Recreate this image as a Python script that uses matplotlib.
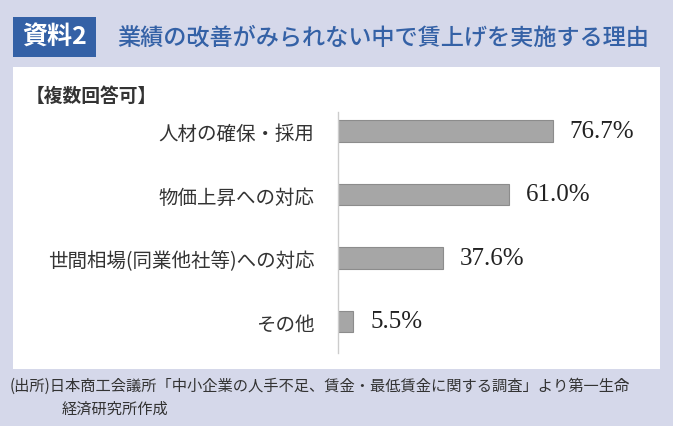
import matplotlib
matplotlib.use("Agg")
import matplotlib.pyplot as plt
from matplotlib.patches import Rectangle

plt.rcParams['font.family'] = ['Noto Sans CJK JP', 'DejaVu Sans']

categories = ["人材の確保・採用", "物価上昇への対応", "世間相場(同業他社等)への対応", "その他"]
values = [76.7, 61.0, 37.6, 5.5]
value_labels = ["76.7%", "61.0%", "37.6%", "5.5%"]

title = "業績の改善がみられない中で賃上げを実施する理由"
badge = "資料2"
note = "【複数回答可】"
source1 = "(出所)日本商工会議所「中小企業の人手不足、賃金・最低賃金に関する調査」より第一生命"
source2 = "経済研究所作成"

W, H = 673, 427
bg = "#d5d8ea"
blue = "#3461a6"

fig = plt.figure(figsize=(W / 100, H / 100), dpi=100, facecolor=bg)

def fx(px):
    return px / W

def fy(py):
    return 1 - py / H

# header badge + title
fig.patches.append(Rectangle((fx(13), fy(58)), fx(83), 40 / H, transform=fig.transFigure,
                             facecolor=blue, edgecolor="none", zorder=-5))
fig.text(fx(55), fy(38), badge, color="white", fontsize=18, fontweight="bold",
         ha="center", va="center")
fig.text(fx(117), fy(38), title, color=blue, fontsize=16.7, fontweight="medium",
         ha="left", va="center")

# white panel
fig.patches.append(Rectangle((fx(13), fy(370)), fx(647), 302 / H, transform=fig.transFigure,
                             facecolor="white", edgecolor="none", zorder=-5))
fig.text(fx(26), fy(96), note, color="#333333", fontsize=13.5, fontweight="bold",
         ha="left", va="center")

# bars
ax = fig.add_axes([fx(338), fy(354), 280 / W, 241 / H])
ax.set_zorder(5)
ax.set_facecolor("none")
y = list(range(len(categories)))
ax.barh(y, values, height=0.34, color="#a6a6a6", edgecolor="#8c8c8c", linewidth=0.8)
for yi, v, lab in zip(y, values, value_labels):
    ax.text(v + 6, yi, lab, fontsize=18, family="Liberation Serif", color="#222222",
            ha="left", va="center")
ax.set_xlim(0, 100)
ax.set_ylim(3.5, -0.3)
ax.set_yticks(y)
ax.set_yticklabels(categories, fontsize=14, color="#333333")
ax.tick_params(axis="y", length=0, pad=17)
ax.set_xticks([])
for s in ["top", "right", "bottom"]:
    ax.spines[s].set_visible(False)
ax.spines["left"].set_color("#cccccc")
ax.spines["left"].set_linewidth(1)

# source
fig.text(fx(10), fy(386), source1, color="#333333", fontsize=11, ha="left", va="center")
fig.text(fx(62), fy(409), source2, color="#333333", fontsize=11, ha="left", va="center")

fig.savefig("out.png", dpi=100, facecolor=bg)
